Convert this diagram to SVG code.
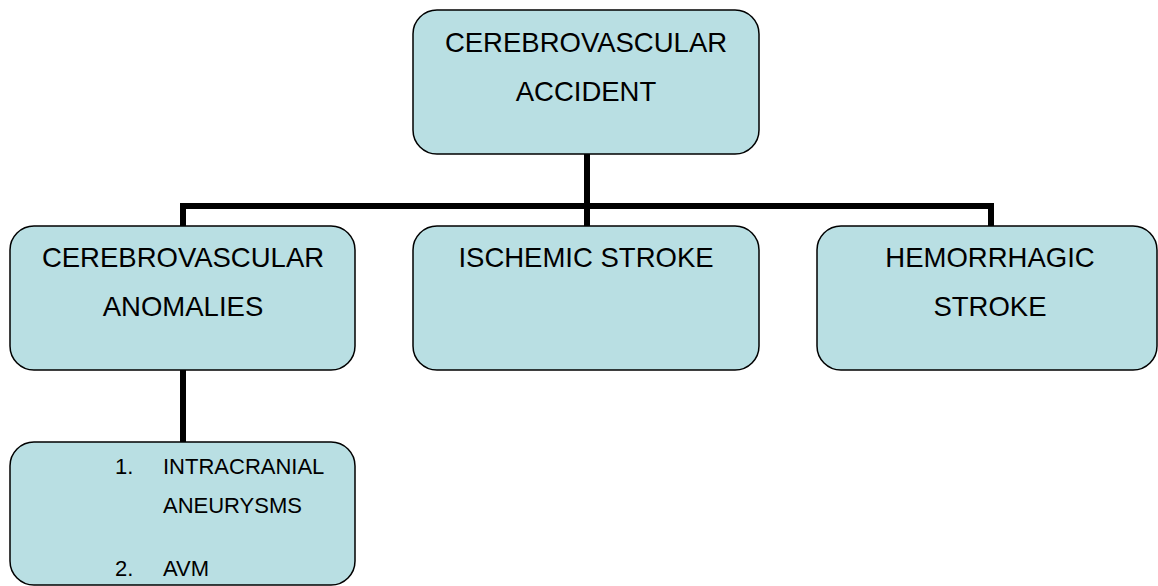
<svg xmlns="http://www.w3.org/2000/svg" width="1158" height="586" viewBox="0 0 1158 586">
<style>
.box{fill:#b9dfe3;stroke:#000;stroke-width:1.5}
.t{font-family:"Liberation Sans",Arial,sans-serif;font-size:27.5px;fill:#000;text-anchor:middle}
.s{font-family:"Liberation Sans",Arial,sans-serif;font-size:22px;fill:#000}
.c{fill:none;stroke:#000;stroke-width:6}
</style>
<rect width="1158" height="586" fill="#fff"/>
<g id="connectors">
<path class="c" d="M587 154 V206 M183 226 V206 H991 V226 M587 206 V226"/>
<path class="c" d="M183 370 V442"/>
</g>
<g id="cva">
<rect class="box" x="413" y="10" width="346" height="144" rx="24"/>
<text class="t" x="586" y="52">CEREBROVASCULAR</text>
<text class="t" x="586" y="101">ACCIDENT</text>
</g>
<g id="anomalies">
<rect class="box" x="10" y="226" width="345" height="144" rx="24"/>
<text class="t" x="183" y="267">CEREBROVASCULAR</text>
<text class="t" x="183" y="316">ANOMALIES</text>
</g>
<g id="ischemic">
<rect class="box" x="413" y="226" width="346" height="144" rx="24"/>
<text class="t" x="586" y="267">ISCHEMIC STROKE</text>
</g>
<g id="hemorrhagic">
<rect class="box" x="817" y="226" width="340" height="144" rx="24"/>
<text class="t" x="990" y="267">HEMORRHAGIC</text>
<text class="t" x="990" y="316">STROKE</text>
</g>
<g id="list">
<rect class="box" x="10" y="442" width="345" height="143" rx="24"/>
<text class="s" x="115" y="474">1.</text>
<text class="s" x="163" y="474">INTRACRANIAL</text>
<text class="s" x="163" y="513">ANEURYSMS</text>
<text class="s" x="115" y="576">2.</text>
<text class="s" x="163" y="576">AVM</text>
</g>
</svg>
